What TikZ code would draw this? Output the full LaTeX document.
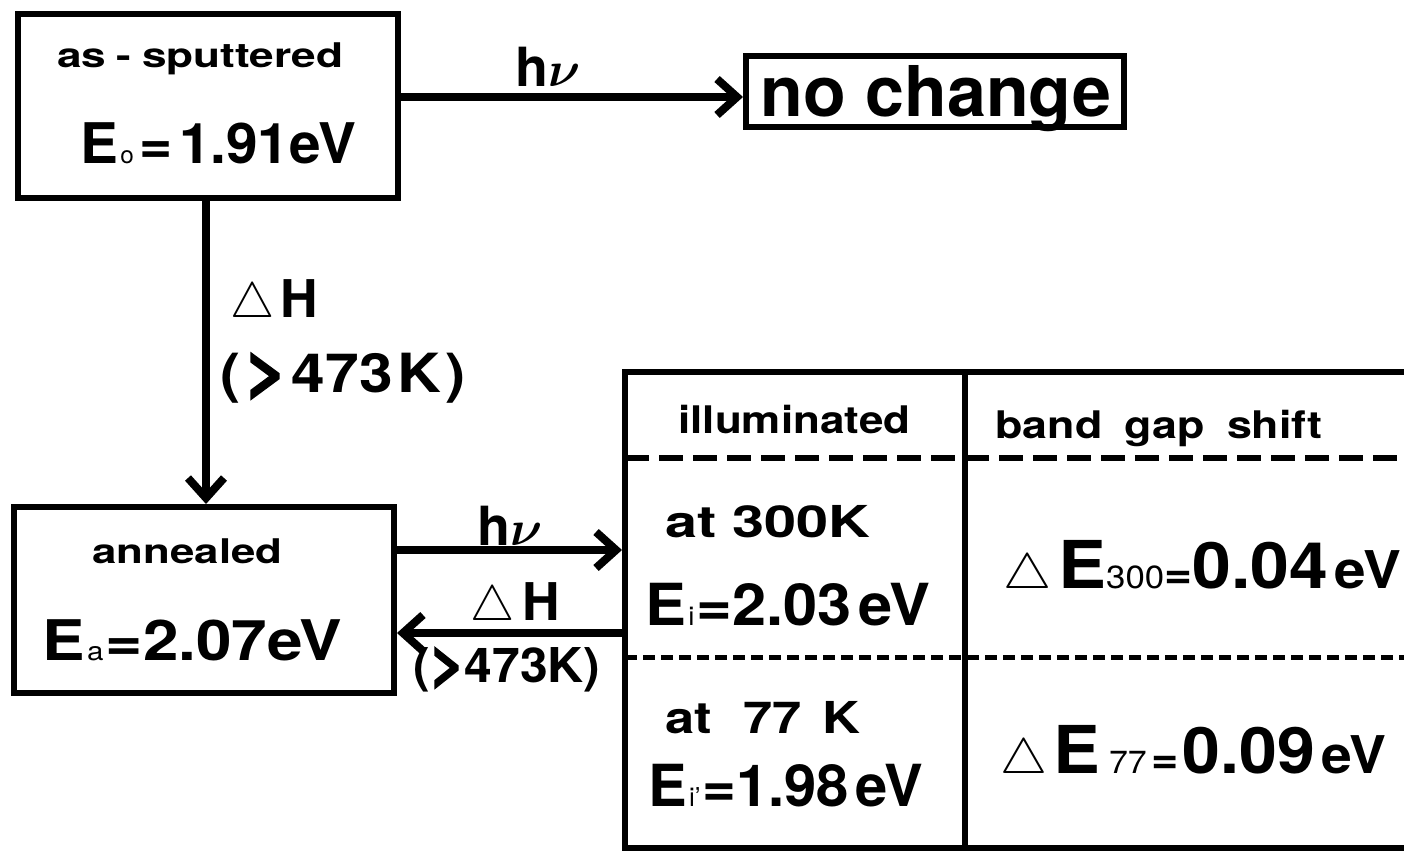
\documentclass[tikz,border=0pt]{standalone}
\usepackage{amsmath}
\usepackage{fontspec}
\setmainfont{TeX Gyre Heros}
\usetikzlibrary{arrows.meta}
\newcommand\fsz[1]{\fontsize{#1}{#1}\selectfont}
\newcommand\hfit[2]{\resizebox{#1}{\height}{#2}}
\newcommand\tri[1]{{\fsz{#1}$\triangle$}}
\newcommand\bgt{\resizebox{0.7em}{0.71em}{\addfontfeature{FakeBold=3}>}}
\tikzset{
  box/.style={draw, line width=3pt, inner sep=0pt},
  lbl/.style={inner sep=0pt, anchor=base west, font=\bfseries},
  arr/.style={line width=4pt, -{Straight Barb[length=10pt,width=18pt]}},
  hdash/.style={line width=3pt, dash pattern=on 12pt off 5pt},
  ldash/.style={line width=2.5pt, dash pattern=on 6pt off 3pt},
}
\begin{document}
\begin{tikzpicture}[x=0.5pt,y=-0.5pt]
\clip (0,0) rectangle (1404,856);
% boxes
\node[box, minimum width=190pt, minimum height=92pt] (b1) at (208,106) {};
\node[box, minimum width=189pt, minimum height=35.5pt] (nc) at (935,91.5) {};
\node[box, minimum width=190pt, minimum height=93pt] (an) at (204,600) {};
\node[box, minimum width=407.5pt, minimum height=238pt] (tb) at (1032.5,610) {};
% table rules
\draw[line width=3pt] (965,372) -- (965,848);
\draw[hdash] (625,458) -- (1404,458);
\draw[ldash] (625,657) -- (1404,657);
% arrows
\draw[arr] ([yshift=4.5pt]b1.east) -- ([yshift=4.5pt]b1.east -| nc.west);
\draw[arr] ([xshift=-1pt]b1.south) -- ([xshift=-1pt]b1.south |- an.north);
\draw[arr] ([yshift=25pt]an.east) -- ([yshift=25pt]an.east -| tb.west);
\draw[arr] ([yshift=-16.5pt]an.east -| tb.west) -- ([yshift=-16.5pt]an.east);
% texts in boxes
\node[lbl] (tas) at (57,68) {\hfit{143pt}{\fsz{17}as\kern4pt-\kern4pt sputtered}};
\node[lbl] (te0) at (80,163) {\hfit{138pt}{\fsz{28}E\kern1pt{\fsz{12}\mdseries o}\kern3pt=\kern3pt1.91eV}};
\node[lbl] (tnc) at (760,117) {\fsz{35}no change};
\node[lbl] (tann) at (92,563) {\hfit{95pt}{\fsz{17}annealed}};
\node[lbl] (tea) at (42,660) {\hfit{150pt}{\fsz{28}E\kern1pt{\fsz{13}\mdseries a}\kern1pt=2.07eV}};
% arrow labels
\node[lbl] (hv1) at (515,87) {\fsz{27}h$\boldsymbol{\nu}$};
\node[lbl] (dh1) at (230,317) {\tri{29}\kern3pt\fsz{26}H};
\node[lbl] (tk1) at (220,392) {\hfit{122.5pt}{\fsz{27}(\kern2pt\bgt\kern2pt473\kern2pt K\kern2pt)}};
\node[lbl] (hv2) at (477,545) {\fsz{27}h$\boldsymbol{\nu}$};
\node[lbl] (dh2) at (470,620) {\tri{29}\kern4pt\fsz{26}H};
\node[lbl] (tk2) at (413,682) {\hfit{93.5pt}{\fsz{24}(\bgt 473K)}};
% table texts
\node[lbl] (til) at (678,433) {\hfit{116pt}{\fsz{19}illuminated}};
\node[lbl] (tbg) at (995,438) {\hfit{163.5pt}{\fsz{19}band\hspace{0.5em}gap\hspace{0.5em}shift}};
\node[lbl] (t300) at (665,537) {\hfit{102.5pt}{\fsz{22}at 300K}};
\node[lbl] (tei) at (645,625) {\hfit{142.5pt}{\fsz{29}E\kern1pt{\fsz{13}\mdseries i}\kern1pt=2.03\kern3pt eV}};
\node[lbl] (t77) at (665,733) {\hfit{97.5pt}{\fsz{22}at\hspace{0.6em}77\hspace{0.4em}K}};
\node[lbl] (tei2) at (648,806) {\hfit{137.5pt}{\fsz{29}E\kern1pt{\fsz{13}\mdseries i’}\kern1pt=1.98\kern3pt eV}};
\node[lbl] (tde1) at (1003,588) {\hfit{199pt}{\tri{29}\kern3pt{\fsz{33}E}{\fsz{16}\mdseries 300}{\fsz{22}=}{\fsz{32}0.04}\kern3pt{\fsz{26}eV}}};
\node[lbl] (tde2) at (1000,773) {\hfit{193pt}{\tri{29}\kern3pt{\fsz{33}E}\kern4pt{\fsz{16}\mdseries 77}\kern2pt{\fsz{22}=}\kern2pt{\fsz{32}0.09}\kern3pt{\fsz{26}eV}}};
\end{tikzpicture}
\end{document}
